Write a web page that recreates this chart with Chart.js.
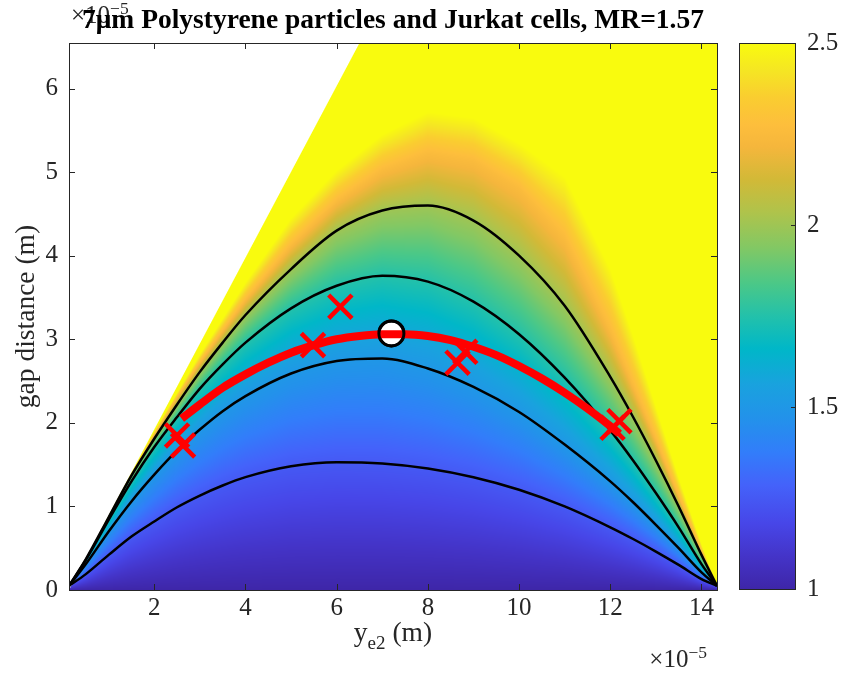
<!DOCTYPE html>
<html lang="en">
  <head>
    <meta charset="UTF-8" />
    <title>7μm Polystyrene particles and Jurkat cells</title>
    <style>
      body {
        margin: 0;
        background: #fff;
      }
      .figure {
        position: relative;
        width: 846px;
        height: 677px;
      }
      .figure canvas {
        position: absolute;
        top: 0;
      }
      #fieldChart {
        left: 0;
      }
      #barChart {
        left: 700px;
      }
    </style>
  </head>
  <body>
    <div class="figure">
      <canvas id="fieldChart" width="846" height="677"></canvas>
      <canvas id="barChart" width="146" height="677"></canvas>
    </div>
    <script src="https://cdn.jsdelivr.net/npm/chart.js"></script>
    <script>
      // axis ticks (x and gap in units of 1e-5 m)
      const xTicks = [2, 4, 6, 8, 10, 12, 14];
      const yTicks = [0, 1, 2, 3, 4, 5, 6];
      const barTicks = [1, 1.5, 2, 2.5];

      // level curves of the ratio field, sampled at curveX
      const curveX = [0.13, 0.5, 1, 1.5, 2, 2.5, 3, 3.5, 4, 5, 6, 7, 8, 9, 10, 11, 12, 12.5, 13, 13.5, 14, 14.34];
      const level125 = [0.05, 0.19, 0.42, 0.64, 0.82, 0.99, 1.13, 1.25, 1.35, 1.48, 1.53, 1.515, 1.455, 1.35, 1.2, 1.0, 0.75, 0.61, 0.46, 0.3, 0.13, 0.05];
      const level150 = [0.05, 0.31, 0.7, 1.06, 1.38, 1.67, 1.92, 2.14, 2.32, 2.59, 2.74, 2.77, 2.65, 2.43, 2.13, 1.74, 1.3, 1.05, 0.78, 0.5, 0.21, 0.05];
      const level175 = [0.05, 0.36, 0.84, 1.3, 1.71, 2.07, 2.41, 2.7, 2.96, 3.37, 3.64, 3.76, 3.69, 3.45, 3.06, 2.54, 1.91, 1.55, 1.16, 0.75, 0.31, 0.05];
      const level200 = [0.05, 0.37, 0.87, 1.37, 1.81, 2.22, 2.61, 2.96, 3.29, 3.84, 4.3, 4.54, 4.6, 4.42, 4.0, 3.4, 2.55, 2.07, 1.55, 1.0, 0.42, 0.05];
      const level225 = [0.05, 0.375, 0.88, 1.39, 1.86, 2.3, 2.72, 3.1, 3.47, 4.12, 4.65, 5.02, 5.22, 5.13, 4.8, 4.2, 3.1, 2.45, 1.8, 1.12, 0.46, 0.05];
      const level250 = [0.05, 0.378, 0.89, 1.4, 1.9, 2.36, 2.82, 3.25, 3.68, 4.45, 5.02, 5.45, 5.72, 5.65, 5.35, 4.95, 3.85, 3.05, 2.2, 1.35, 0.55, 0.05];
      const levelValues = [1, 1.25, 1.5, 1.75, 2, 2.25, 2.5];

      // edge of the valid region (gap above it is not defined)
      const edgeX = [0.13, 6.5];
      const edgeY = [0, 6.545];

      // MR = 1.57 trajectory
      const mrX = [2.6, 3, 3.5, 4, 4.5, 5, 5.5, 6, 6.5, 7, 7.5, 8, 8.5, 9, 9.5, 10, 10.5, 11, 11.5, 12, 12.2];
      const mrY = [2.05, 2.22, 2.42, 2.58, 2.72, 2.84, 2.93, 3.0, 3.04, 3.06, 3.06, 3.04, 2.99, 2.91, 2.81, 2.68, 2.53, 2.36, 2.17, 1.96, 1.87];

      // measured cells
      const cellX = [2.5, 2.63, 5.48, 6.08, 8.65, 8.82, 12.05, 12.2];
      const cellY = [1.85, 1.73, 2.93, 3.39, 2.72, 2.85, 1.94, 2.02];

      // operating point
      const opX = [7.2];
      const opY = [3.07];

      const barMin = 1;
      const barMax = 2.5;

      // parula colour map, [t, r, g, b]
      const colorStops = [
        [0.0, 62, 38, 168],
        [0.06, 68, 52, 200],
        [0.12, 71, 70, 232],
        [0.19, 68, 98, 250],
        [0.25, 50, 125, 250],
        [0.31, 35, 145, 235],
        [0.375, 25, 162, 222],
        [0.44, 0, 183, 200],
        [0.5, 35, 193, 170],
        [0.56, 75, 200, 135],
        [0.625, 130, 200, 100],
        [0.69, 175, 195, 75],
        [0.75, 210, 185, 55],
        [0.81, 245, 182, 60],
        [0.85, 253, 190, 60],
        [0.9, 250, 205, 48],
        [0.95, 245, 230, 35],
        [1.0, 249, 251, 14],
      ];

      const serif = "'Liberation Serif', 'Times New Roman', serif";
      const axisColor = "#262626";

      const pts = (xs, ys) => xs.map((x, i) => ({ x: x, y: ys[i] }));

      function lerpAt(xs, ys, v) {
        if (v <= xs[0]) return ys[0];
        for (let k = 1; k < xs.length; k++) {
          if (v <= xs[k]) {
            return ys[k - 1] + ((ys[k] - ys[k - 1]) * (v - xs[k - 1])) / (xs[k] - xs[k - 1]);
          }
        }
        const n = xs.length - 1;
        return ys[n] + ((ys[n] - ys[n - 1]) * (v - xs[n])) / (xs[n] - xs[n - 1]);
      }

      function colourAt(v) {
        const t = Math.min(1, Math.max(0, (v - barMin) / (barMax - barMin)));
        for (let k = 1; k < colorStops.length; k++) {
          if (t <= colorStops[k][0]) {
            const a = colorStops[k - 1];
            const b = colorStops[k];
            const f = (t - a[0]) / (b[0] - a[0]);
            return [a[1] + f * (b[1] - a[1]), a[2] + f * (b[2] - a[2]), a[3] + f * (b[3] - a[3])];
          }
        }
        return colorStops[colorStops.length - 1].slice(1);
      }

      function fieldValue(gap, ys) {
        if (gap <= ys[0]) return levelValues[0];
        for (let k = 1; k < ys.length; k++) {
          if (gap < ys[k]) {
            const span = ys[k] - ys[k - 1];
            if (span <= 0) return levelValues[k];
            return levelValues[k - 1] + ((levelValues[k] - levelValues[k - 1]) * (gap - ys[k - 1])) / span;
          }
        }
        return levelValues[levelValues.length - 1];
      }

      const levelCurves = [level125, level150, level175, level200, level225, level250];

      // shaded ratio field under the contour lines
      const fieldPlugin = {
        id: "field",
        beforeDatasetsDraw(chart) {
          const { ctx, chartArea: a, scales } = chart;
          const left = Math.round(a.left);
          const top = Math.round(a.top);
          const w = Math.round(a.right) - left;
          const h = Math.round(a.bottom) - top;
          const img = ctx.createImageData(w, h);
          const slope = Math.abs(
            (scales.y.getPixelForValue(edgeY[1]) - scales.y.getPixelForValue(edgeY[0])) /
              (scales.x.getPixelForValue(edgeX[1]) - scales.x.getPixelForValue(edgeX[0]))
          );
          const norm = slope / Math.sqrt(1 + slope * slope);
          for (let i = 0; i < w; i++) {
            const px = left + i + 0.5;
            const xv = scales.x.getValueForPixel(px);
            const ys = [0].concat(levelCurves.map((c) => lerpAt(curveX, c, xv)));
            for (let j = 0; j < h; j++) {
              const py = top + j + 0.5;
              const gap = scales.y.getValueForPixel(py);
              const c = colourAt(fieldValue(gap, ys));
              const edgePx = scales.x.getPixelForValue(lerpAt(edgeY, edgeX, gap));
              const cover = Math.min(1, Math.max(0, 0.5 + (px - edgePx) * norm));
              const o = (j * w + i) * 4;
              img.data[o] = 255 + cover * (c[0] - 255);
              img.data[o + 1] = 255 + cover * (c[1] - 255);
              img.data[o + 2] = 255 + cover * (c[2] - 255);
              img.data[o + 3] = 255;
            }
          }
          ctx.putImageData(img, left, top);
        },
      };

      function drawScript(ctx, x, y, parts) {
        // parts: [text, size, baseline shift]
        let cx = x;
        parts.forEach(([text, size, dy]) => {
          ctx.font = size + "px " + serif;
          ctx.fillText(text, cx, y + dy);
          cx += ctx.measureText(text).width;
        });
        return cx - x;
      }

      function scriptWidth(ctx, parts) {
        let w = 0;
        parts.forEach(([text, size]) => {
          ctx.font = size + "px " + serif;
          w += ctx.measureText(text).width;
        });
        return w;
      }

      const expParts = [
        ["×10", 25, 0],
        ["−5", 17.5, -9],
      ];

      // box, inward ticks, x label and exponent notes
      const framePlugin = {
        id: "frame",
        beforeDraw(chart) {
          const { ctx, chartArea: a } = chart;
          ctx.save();
          ctx.fillStyle = axisColor;
          ctx.textBaseline = "alphabetic";
          drawScript(ctx, a.left + 2, 23, expParts);
          ctx.restore();
        },
        afterDraw(chart) {
          const { ctx, chartArea: a, scales } = chart;
          ctx.save();
          ctx.strokeStyle = axisColor;
          ctx.lineWidth = 1;
          ctx.beginPath();
          xTicks.forEach((v) => {
            const p = Math.round(scales.x.getPixelForValue(v)) + 0.5;
            ctx.moveTo(p, a.bottom);
            ctx.lineTo(p, a.bottom - 6);
            ctx.moveTo(p, a.top);
            ctx.lineTo(p, a.top + 6);
          });
          yTicks.forEach((v) => {
            const p = Math.round(scales.y.getPixelForValue(v)) + 0.5;
            ctx.moveTo(a.left, p);
            ctx.lineTo(a.left + 6, p);
            ctx.moveTo(a.right, p);
            ctx.lineTo(a.right - 6, p);
          });
          ctx.stroke();
          ctx.strokeRect(Math.round(a.left) + 0.5, Math.round(a.top) + 0.5, Math.round(a.right - a.left), Math.round(a.bottom - a.top));

          ctx.fillStyle = axisColor;
          ctx.textBaseline = "alphabetic";
          const labelParts = [
            ["y", 27.5, 0],
            ["e2", 19, 8],
            [" (m)", 27.5, 0],
          ];
          const lw = scriptWidth(ctx, labelParts);
          drawScript(ctx, (a.left + a.right) / 2 - lw / 2, 641, labelParts);
          const ew = scriptWidth(ctx, expParts);
          drawScript(ctx, a.right - ew - 10, 667, expParts);
          ctx.restore();
        },
      };

      const fieldChart = new Chart(document.getElementById("fieldChart"), {
        type: "line",
        data: {
          datasets: [
            {
              label: "cells",
              data: pts(cellX, cellY),
              showLine: false,
              pointStyle: "crossRot",
              pointRadius: 16.5,
              pointBorderWidth: 4.5,
              borderColor: "#ff0000",
              pointBorderColor: "#ff0000",
              order: 0,
            },
            {
              label: "operating point ring",
              data: pts(opX, opY),
              showLine: false,
              pointRadius: 12.5,
              pointBorderWidth: 3,
              pointBorderColor: "#000",
              pointBackgroundColor: "rgba(0,0,0,0)",
              order: 1,
            },
            {
              label: "MR=1.57",
              data: pts(mrX, mrY),
              borderColor: "#ff0000",
              borderWidth: 8,
              pointRadius: 0,
              cubicInterpolationMode: "monotone",
              order: 2,
            },
            {
              label: "operating point",
              data: pts(opX, opY),
              showLine: false,
              pointRadius: 12.5,
              pointBorderWidth: 3,
              pointBorderColor: "#000",
              pointBackgroundColor: "#fff",
              order: 3,
            },
            ...[level125, level150, level175, level200].map((c, i) => ({
              label: "level " + levelValues[i + 1],
              data: pts(curveX, c),
              borderColor: "#000",
              borderWidth: 2.5,
              pointRadius: 0,
              cubicInterpolationMode: "monotone",
              order: 4,
            })),
          ],
        },
        options: {
          responsive: false,
          animation: false,
          events: [],
          layout: { padding: { left: 0, top: 0, right: 129, bottom: 0 } },
          plugins: {
            legend: { display: false },
            tooltip: { enabled: false },
            title: {
              display: true,
              fullSize: false,
              text: "7μm Polystyrene particles and Jurkat cells, MR=1.57",
              color: "#000",
              font: { family: serif, size: 27.5, weight: "bold" },
              padding: { top: 4, bottom: 6 },
            },
          },
          scales: {
            x: {
              type: "linear",
              min: 0.13,
              max: 14.34,
              grid: { display: false, drawTicks: false },
              border: { display: false },
              ticks: {
                color: axisColor,
                font: { family: serif, size: 25 },
                padding: 3,
                maxRotation: 0,
              },
              afterBuildTicks: (s) => {
                s.ticks = xTicks.map((v) => ({ value: v }));
              },
              afterFit: (s) => {
                s.height = 87;
              },
            },
            y: {
              type: "linear",
              min: 0,
              max: 6.545,
              grid: { display: false, drawTicks: false },
              border: { display: false },
              ticks: {
                color: axisColor,
                font: { family: serif, size: 25 },
                padding: 11,
              },
              title: {
                display: true,
                text: "gap distance (m)",
                color: axisColor,
                font: { family: serif, size: 27.5 },
                padding: { top: 10.5, bottom: 0 },
              },
              afterBuildTicks: (s) => {
                s.ticks = yTicks.map((v) => ({ value: v }));
              },
              afterFit: (s) => {
                s.width = 69;
              },
            },
          },
        },
        plugins: [fieldPlugin, framePlugin],
      });

      // colour bar
      const barPlugin = {
        id: "colorbar",
        beforeDatasetsDraw(chart) {
          const { ctx, chartArea: a, scales } = chart;
          const y0 = scales.y.getPixelForValue(barMin);
          const y1 = scales.y.getPixelForValue(barMax);
          const g = ctx.createLinearGradient(0, y0, 0, y1);
          colorStops.forEach(([t, r, gg, b]) => g.addColorStop(t, "rgb(" + r + "," + gg + "," + b + ")"));
          ctx.save();
          ctx.fillStyle = g;
          ctx.fillRect(a.left, a.top, a.right - a.left, a.bottom - a.top);
          ctx.restore();
        },
        afterDraw(chart) {
          const { ctx, chartArea: a, scales } = chart;
          ctx.save();
          ctx.strokeStyle = axisColor;
          ctx.lineWidth = 1;
          ctx.strokeRect(Math.round(a.left) + 0.5, Math.round(a.top) + 0.5, Math.round(a.right - a.left), Math.round(a.bottom - a.top));
          ctx.beginPath();
          barTicks.forEach((v) => {
            const p = Math.round(scales.y.getPixelForValue(v)) + 0.5;
            ctx.moveTo(a.right, p);
            ctx.lineTo(a.right - 4, p);
          });
          ctx.stroke();
          ctx.restore();
        },
      };

      const barChart = new Chart(document.getElementById("barChart"), {
        type: "line",
        data: { datasets: [] },
        options: {
          responsive: false,
          animation: false,
          events: [],
          layout: { padding: { left: 39, top: 43, right: 0, bottom: 88 } },
          plugins: { legend: { display: false }, tooltip: { enabled: false } },
          scales: {
            x: { type: "linear", display: false },
            y: {
              type: "linear",
              position: "right",
              min: barMin,
              max: barMax,
              grid: { display: false, drawTicks: false },
              border: { display: false },
              ticks: {
                color: axisColor,
                font: { family: serif, size: 25 },
                padding: 12,
                callback: (v) => String(v),
              },
              afterBuildTicks: (s) => {
                s.ticks = barTicks.map((v) => ({ value: v }));
              },
              afterFit: (s) => {
                s.width = 51;
              },
            },
          },
        },
        plugins: [barPlugin],
      });
    </script>
  </body>
</html>
